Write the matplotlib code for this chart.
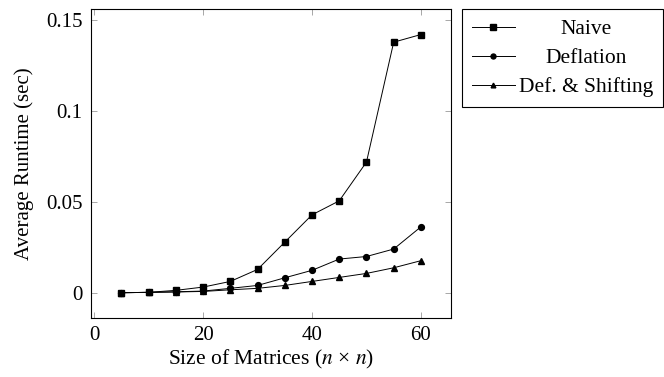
import matplotlib
matplotlib.use("Agg")
import matplotlib.pyplot as plt

plt.rcParams['font.family'] = ['Liberation Serif', 'DejaVu Serif']
plt.rcParams['mathtext.fontset'] = 'stix'
plt.rcParams['font.size'] = 14.5

sizes = [5, 10, 15, 20, 25, 30, 35, 40, 45, 50, 55, 60]
naive = [0.0, 0.0002, 0.0013, 0.0031, 0.0062, 0.0128, 0.0278, 0.0428, 0.0505, 0.0718, 0.1377, 0.1419]
deflation = [0.0, 0.0002, 0.0005, 0.0009, 0.0024, 0.0040, 0.0082, 0.0123, 0.0185, 0.0199, 0.0240, 0.0362]
def_shift = [0.0, 0.0002, 0.0004, 0.0007, 0.0016, 0.0024, 0.0040, 0.0062, 0.0084, 0.0106, 0.0137, 0.0176]
labels = ["Naive", "Deflation", "Def. & Shifting"]
xticks = [0, 20, 40, 60]
yticks = [0, 0.05, 0.1, 0.15]
yticklabels = ["0", "0.05", "0.1", "0.15"]

fig = plt.figure(figsize=(6.64, 3.77), dpi=100)
ax = fig.add_axes([0.137, 0.1565, 0.542, 0.8185])

ax.plot(sizes, naive, color='black', lw=0.7, marker='s', ms=4.5, label=labels[0])
ax.plot(sizes, deflation, color='black', lw=0.7, marker='o', ms=4.2, label=labels[1])
ax.plot(sizes, def_shift, color='black', lw=0.7, marker='^', ms=4.0, label=labels[2])

ax.set_xlim(-0.6, 65.5)
ax.set_ylim(-0.0139, 0.1557)
ax.set_xticks(xticks)
ax.set_yticks(yticks)
ax.set_yticklabels(yticklabels)
ax.tick_params(direction='in', length=4, width=0.6, color='#999999',
               top=True, right=True, labelsize=15, pad=6)
for s in ax.spines.values():
    s.set_linewidth(0.8)
    s.set_color('black')

ax.set_xlabel(r"Size of Matrices ($n$ × $n$)", fontsize=15.5, labelpad=2)
ax.set_ylabel("Average Runtime (sec)", fontsize=15, labelpad=9)

leg = ax.legend(loc='upper left', bbox_to_anchor=(1.031, 1.0), borderaxespad=0,
                fancybox=False, framealpha=1, edgecolor='black', fontsize=15.5,
                handlelength=2.0, handletextpad=0.2, labelspacing=0.42,
                borderpad=0.45, markerscale=0.85)
leg.get_frame().set_linewidth(0.8)

fig.canvas.draw()
r = fig.canvas.get_renderer()
texts = leg.get_texts()
widths = [t.get_window_extent(r).width for t in texts]
mw = max(widths)
for t, w in zip(texts, widths):
    t.set_x((mw - w) / 2)

fig.savefig("out.png", dpi=100)
